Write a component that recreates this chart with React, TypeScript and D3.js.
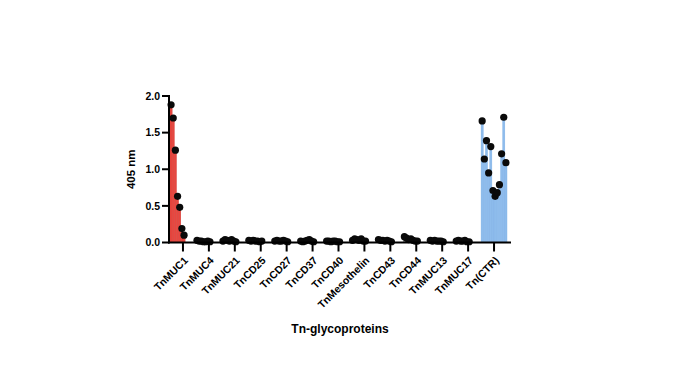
import React from 'react';
import * as d3 from 'd3';

// categories along the x axis
const categories = [
    'TnMUC1', 'TnMUC4', 'TnMUC21', 'TnCD25', 'TnCD27', 'TnCD37', 'TnCD40',
    'TnMesothelin', 'TnCD43', 'TnCD44', 'TnMUC13', 'TnMUC17', 'Tn(CTR)'
];

// replicate absorbance values (405 nm) for each category
const tnMUC1 = [1.88, 1.70, 1.26, 0.63, 0.48, 0.19, 0.10];
const tnMUC4 = [0.03, 0.02, 0.02, 0.01, 0.01, 0.02, 0.01];
const tnMUC21 = [0.02, 0.04, 0.03, 0.02, 0.04, 0.02, 0.01];
const tnCD25 = [0.03, 0.02, 0.03, 0.02, 0.02, 0.01, 0.02];
const tnCD27 = [0.02, 0.03, 0.02, 0.02, 0.03, 0.02, 0.01];
const tnCD37 = [0.02, 0.01, 0.02, 0.03, 0.04, 0.02, 0.01];
const tnCD40 = [0.02, 0.02, 0.01, 0.02, 0.02, 0.01, 0.01];
const tnMesothelin = [0.03, 0.05, 0.04, 0.03, 0.05, 0.02, 0.02];
const tnCD43 = [0.04, 0.03, 0.03, 0.02, 0.03, 0.02, 0.01];
const tnCD44 = [0.08, 0.06, 0.04, 0.05, 0.03, 0.02, 0.02];
const tnMUC13 = [0.03, 0.02, 0.03, 0.02, 0.02, 0.02, 0.01];
const tnMUC17 = [0.02, 0.03, 0.02, 0.02, 0.03, 0.01, 0.01];
const tnCTR = [1.66, 1.14, 1.39, 0.95, 1.31, 0.71, 0.63, 0.68, 0.79, 1.21, 1.71, 1.09];

const seriesValues = [
    tnMUC1, tnMUC4, tnMUC21, tnCD25, tnCD27, tnCD37, tnCD40,
    tnMesothelin, tnCD43, tnCD44, tnMUC13, tnMUC17, tnCTR
];

const yTicks = [0, 0.5, 1, 1.5, 2];

const font = "'Liberation Sans', Arial, sans-serif";

export default function App() {
    const width = 694;
    const height = 390;

    const x = d3.scaleBand<string>()
        .domain(categories)
        .range([170, 507]);

    // 12 replicate slots per category
    const slot = d3.scaleBand<number>()
        .domain(d3.range(12))
        .range([0, x.bandwidth()]);

    const y = d3.scaleLinear()
        .domain([0, 2])
        .range([242.5, 96]);

    const last = categories.length - 1;
    const fillFor = (i: number) => i === 0 ? '#e8463f' : i === last ? '#8ebcec' : '#9a9a9a';
    const strokeFor = (i: number) => i === 0 ? '#cf3a33' : i === last ? '#7eb0e6' : '#777';

    const x0 = 169;
    const axisY = y(0);

    return (
        <svg width={width} height={height}
            style={{ position: 'absolute', left: 0, top: 0, background: '#fff' }}>
            {/* bars + dots */}
            {seriesValues.map((vals, ci) => {
                const gx = x(categories[ci])!;
                return (
                    <g key={categories[ci]}>
                        {vals.map((v, j) => (
                            <rect key={'b' + j}
                                x={gx + slot(j)!}
                                y={y(v)}
                                width={slot.bandwidth()}
                                height={axisY - y(v)}
                                fill={fillFor(ci)}
                                stroke={strokeFor(ci)}
                                strokeWidth={0.4} />
                        ))}
                        {vals.map((v, j) => (
                            <circle key={'d' + j}
                                cx={gx + slot(j)! + slot.bandwidth() / 2}
                                cy={y(v)}
                                r={3.6}
                                fill="#0a0a0a" />
                        ))}
                    </g>
                );
            })}

            {/* y axis */}
            <line x1={x0} x2={x0} y1={y(2) - 1} y2={axisY + 1} stroke="#000" strokeWidth={2} />
            {yTicks.map(t => (
                <g key={t} transform={`translate(0, ${y(t)})`}>
                    <line x1={x0 - 7} x2={x0} stroke="#000" strokeWidth={2} />
                    <text x={x0 - 9} dy="0.35em" textAnchor="end"
                        fontFamily={font} fontWeight="bold" fontSize={10.5}>
                        {t.toFixed(1)}
                    </text>
                </g>
            ))}
            <text transform={`translate(135, ${y(1)}) rotate(-90)`} textAnchor="middle"
                fontFamily={font} fontWeight="bold" fontSize={11.5}>405 nm</text>

            {/* x axis */}
            <line x1={x0 - 1} x2={511} y1={axisY} y2={axisY} stroke="#000" strokeWidth={2} />
            {categories.map(c => {
                const cx = x(c)! + x.bandwidth() / 2;
                return (
                    <g key={c}>
                        <line x1={cx} x2={cx} y1={axisY} y2={axisY + 9} stroke="#000" strokeWidth={2} />
                        <text transform={`translate(${cx + 3}, ${axisY + 16}) rotate(-45)`}
                            textAnchor="end" dy="0.35em"
                            fontFamily={font} fontWeight="bold" fontSize={10.5}>
                            {c}
                        </text>
                    </g>
                );
            })}
            <text x={340} y={333} textAnchor="middle"
                fontFamily={font} fontWeight="bold" fontSize={12}>Tn-glycoproteins</text>
        </svg>
    );
}
